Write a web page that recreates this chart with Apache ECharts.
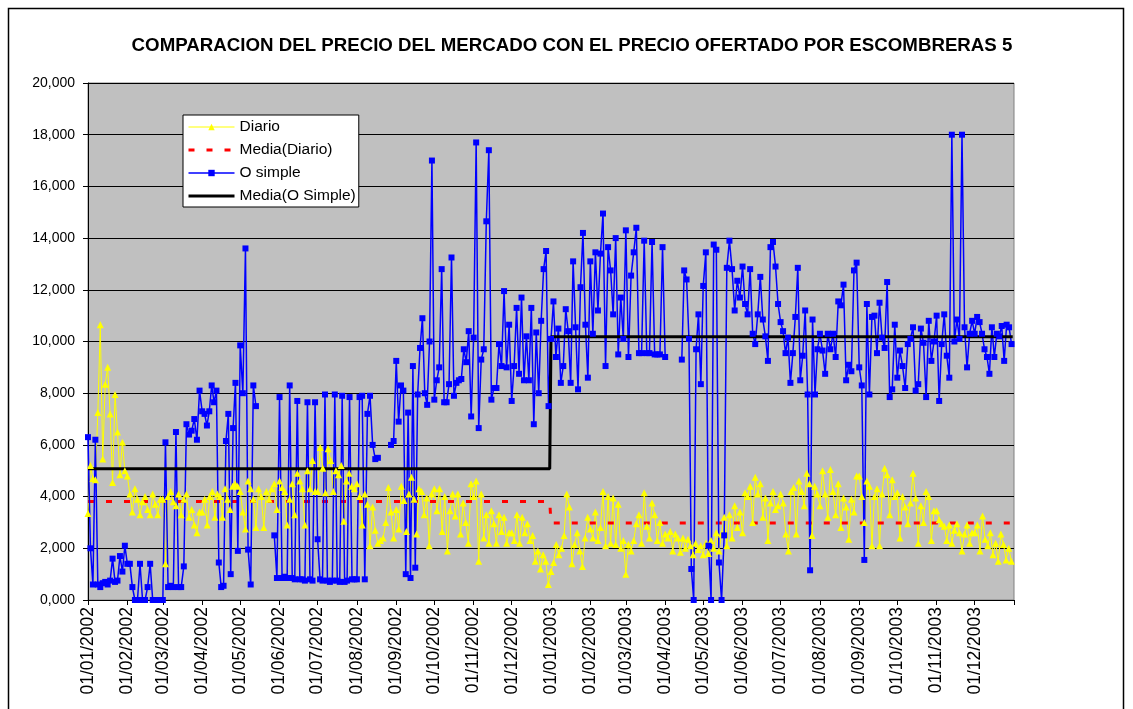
<!DOCTYPE html>
<html>
<head>
<meta charset="utf-8">
<script src="https://cdn.jsdelivr.net/npm/echarts@6/dist/echarts.min.js"></script>
<style>
  html, body { margin: 0; padding: 0; background: #fff; }
  #chart { width: 1133px; height: 709px; }
</style>
</head>
<body>
<div id="chart"></div>
<script>
// tick labels (first day of each month)
const monthLabels = [
  '01/01/2002', '01/02/2002', '01/03/2002', '01/04/2002', '01/05/2002', '01/06/2002',
  '01/07/2002', '01/08/2002', '01/09/2002', '01/10/2002', '01/11/2002', '01/12/2002',
  '01/01/2003', '01/02/2003', '01/03/2003', '01/04/2003', '01/05/2003', '01/06/2003',
  '01/07/2003', '01/08/2003', '01/09/2003', '01/10/2003', '01/11/2003', '01/12/2003'
]
const yTicks = [0, 2, 4, 6, 8, 10, 12, 14, 16, 18, 20]

// Diario: readings per month, spread evenly over the month
const diario2002 = [
  [3.35, 5.2, 4.7, 4.65, 7.25, 10.65, 5.45, 8.35, 9.0, 7.2, 4.55, 7.95, 6.5, 4.85, 6.1, 5.0],
  [4.8, 4.1, 3.4, 4.3, 3.9, 3.3, 3.8, 4.0, 3.5, 3.3, 4.1, 3.7, 3.3, 3.9],
  [3.9, 1.4, 4.0, 4.2, 3.8, 3.65, 4.1, 3.3, 3.9, 4.1, 3.2, 3.5, 2.9, 2.6, 3.4],
  [3.4, 3.9, 2.9, 4.0, 4.2, 3.2, 4.1, 4.0, 3.2, 4.3, 3.9, 3.5, 4.4, 4.5, 4.4],
  [4.2, 3.4, 2.75, 4.6, 4.3, 3.9, 2.8, 4.3, 4.0, 2.8, 4.2, 3.9, 4.3, 4.5, 3.5],
  [4.6, 4.35, 4.2, 2.9, 3.9, 4.5, 3.3, 4.9, 4.6, 4.3, 2.9, 5.0, 4.3, 5.4, 4.2],
  [4.2, 5.9, 5.1, 4.15, 5.85, 5.4, 4.2, 5.0, 4.85, 5.2, 3.05, 4.6, 4.9, 4.4, 4.3],
  [4.5, 4.0, 2.9, 4.1, 3.7, 2.1, 3.6, 2.7, 2.2, 2.3, 2.4, 3.0, 4.35, 3.4, 2.4],
  [3.5, 2.75, 4.4, 3.85, 2.65, 4.1, 4.75, 3.9, 2.55, 4.3, 4.2, 3.3, 3.95, 2.1, 4.1],
  [4.3, 3.45, 4.3, 2.65, 4.0, 1.9, 3.45, 4.1, 3.25, 4.1, 2.55, 3.75, 3.0, 2.2, 4.5],
  [4.0, 4.6, 1.5, 4.1, 2.4, 3.3, 2.2, 3.45, 2.95, 2.2, 3.3, 2.65, 3.2, 2.2, 2.6],
  [2.6, 2.3, 3.3, 2.2, 3.2, 2.6, 2.95, 2.3, 2.5, 1.5, 1.9, 1.2, 1.75, 1.5, 0.6]
]
const diario2003 = [
  [1.1, 1.45, 2.15, 1.75, 2.0, 2.5, 4.1, 3.6, 1.4, 2.15, 2.6, 1.9, 1.3, 2.4, 3.2],
  [2.75, 2.4, 3.4, 2.3, 2.8, 4.2, 2.1, 4.0, 2.2, 3.95, 2.15, 3.7, 2.0, 2.3],
  [1.0, 2.15, 1.9, 2.3, 2.95, 3.3, 2.2, 4.15, 2.85, 2.4, 3.75, 3.3, 2.3, 3.0, 2.2],
  [2.55, 2.4, 2.65, 1.9, 2.55, 2.4, 1.85, 2.4, 2.0, 2.35, 2.1, 1.75, 2.2, 1.95, 2.1],
  [1.75, 2.2, 1.8, 2.3, 2.0, 2.6, 1.9, 2.55, 3.2, 2.1, 3.3, 2.4, 3.65, 2.8, 3.4],
  [2.6, 4.15, 4.0, 4.4, 3.0, 4.75, 4.1, 4.5, 3.2, 3.95, 2.3, 3.75, 4.2, 3.5, 3.65],
  [4.1, 3.75, 2.55, 1.9, 4.2, 4.35, 2.55, 4.6, 4.2, 3.65, 4.9, 4.5, 2.5, 4.4, 4.1],
  [3.65, 5.0, 4.1, 3.2, 5.05, 4.2, 3.3, 4.5, 2.8, 3.95, 3.6, 2.35, 3.9, 3.4, 4.8],
  [4.8, 4.0, 3.0, 4.6, 4.4, 2.1, 4.0, 4.3, 2.1, 4.1, 5.1, 4.85, 3.3, 4.65, 4.0],
  [4.15, 2.4, 4.0, 3.6, 2.95, 3.75, 4.9, 3.95, 2.2, 3.65, 3.0, 4.2, 4.0, 2.3, 3.45],
  [3.45, 3.1, 2.95, 2.85, 2.3, 2.9, 2.2, 2.7, 2.95, 2.6, 1.9, 2.55, 2.9, 2.2, 2.6],
  [2.6, 2.9, 1.9, 3.25, 2.35, 2.1, 2.6, 1.75, 2.2, 1.5, 2.55, 2.15, 1.55, 2.0, 1.5]
]

// O simple (null = no data that day)
const oSimple2002 = [
  [6.3, 2.0, 0.6, 6.2, 0.6, 0.5, 0.65, 0.7, 0.6, 0.75, 1.6, 0.7, 0.75, 1.7, 1.1, 2.1],
  [1.4, 1.4, 0.5, 0, 0, 1.4, 0, 0, 0.5, 1.4, 0, 0, 0, 0],
  [0, 6.1, 0.5, 0.55, 0.5, 6.5, 0.5, 0.5, 1.3, 6.8, 6.4, 6.55, 7.0, 6.2, 8.1],
  [7.3, 7.2, 6.75, 7.3, 8.3, 7.65, 8.1, 1.45, 0.5, 0.55, 6.15, 7.2, 1.0, 6.65, 8.4, 1.9],
  [9.85, 8.0, 13.6, 1.95, 0.6, 8.3, 7.5, null, null, null, null, null, null, 2.5, 0.85],
  [7.85, 0.85, 0.9, 0.85, 8.3, 0.85, 0.8, 7.7, 0.8, 0.8, 0.75, 7.65, 0.8, 0.75, 7.65],
  [2.35, 0.8, 0.75, 7.95, 0.75, 0.7, 0.75, 7.95, 0.75, 0.7, 7.9, 0.7, 0.75, 7.85, 0.8, 0.8],
  [0.8, 7.85, 7.9, 0.8, 7.2, 7.9, 6.0, 5.45, 5.5, null, null, null, null, 6.0, 6.15],
  [9.25, 6.9, 8.3, 8.1, 1.0, 7.25, 0.85, 9.05, 1.25, 7.95, 9.75, 10.9, 8.0, 7.55, 10.0, 17.0],
  [7.75, 8.5, 9.0, 12.8, 7.65, 7.65, 8.35, 13.25, 7.9, 8.4, 8.5, 8.55, 9.7, 9.2, 10.4, 7.1],
  [10.15, 17.7, 6.65, 9.3, 9.7, 14.65, 17.4, 7.75, 8.2, 8.2, 9.9, 9.05, 11.95, 9.0, 10.65],
  [7.7, 9.05, 11.3, 8.75, 11.7, 8.5, 10.2, 8.5, 11.3, 6.8, 10.35, 8.0, 10.8, 12.8, 13.5, 7.5]
]
const oSimple2003 = [
  [10.1, 11.55, 9.4, 10.5, 8.4, 9.05, 11.25, 10.4, 8.4, 13.1, 10.55, 8.15, 12.1, 14.2, 10.65, 8.6],
  [13.1, 10.3, 13.45, 11.2, 13.4, 14.95, 9.05, 13.65, 12.75, 11.05, 14.0, 9.5, 11.7, 10.1],
  [14.3, 9.4, 12.55, 13.45, 14.4, 9.55, 9.55, 13.9, 9.55, 9.55, 13.85, 9.5, 9.5, 9.5, 13.65],
  [9.4, null, null, null, null, null, null, 9.3, 12.75, 12.4, 10.1, 1.2, 0, 9.7, 11.05, 8.35],
  [12.15, 13.45, 2.1, 0, 13.75, 13.55, 1.45, 0, 2.5, 12.85, 13.9, 12.8, 11.2, 12.35, 11.7],
  [12.9, 11.45, 11.05, 12.8, 10.3, 9.9, 11.05, 12.5, 10.85, 10.2, 9.25, 13.65, 13.85, 12.9, 11.45],
  [10.75, 10.4, 9.55, 10.15, 8.4, 9.55, 10.95, 12.85, 8.5, 9.45, 11.2, 7.95, 1.15, 10.85, 7.95, 9.7],
  [10.3, 9.65, 8.75, 10.3, 9.7, 10.3, 9.4, 11.55, 11.4, 12.2, 8.5, 9.1, 8.85, 12.75, 13.05],
  [9.0, 8.3, 1.55, 11.45, 7.95, 10.95, 11.0, 9.55, 11.5, 10.15, 9.75, 12.3, 7.85, 8.15, 10.65],
  [8.6, 9.65, 9.05, 8.2, 9.9, 10.1, 10.55, 8.1, 8.35, 10.5, 9.95, 7.85, 10.8, 9.25, 10.0],
  [11.0, 7.7, 9.9, 11.05, 9.45, 8.6, 18.0, 10.0, 10.85, 10.1, 18.0, 10.55, 9.0, 10.3, 10.8],
  [10.3, 10.95, 10.75, 10.3, 9.7, 9.4, 8.75, 10.55, 9.4, 10.3, 10.2, 10.6, 9.25, 10.65, 10.55, 9.9]
]

// yearly means [2002, 2003]
const mediaDiario = [3.81, 2.98]
const mediaOSimple = [5.08, 10.18]

const DAY = 86400000
const T0 = Date.UTC(2002, 0, 1)
const FONT = 'Liberation Sans, Arial, sans-serif'

// x values are days counted from 01/01/2002
const dayOf = (y, m, d) => (Date.UTC(y, m, d) - T0) / DAY

const parseLabel = s => {
  const [d, m, y] = s.split('/').map(Number)
  return dayOf(y, m - 1, d)
}

const buildDaily = (year, months) => {
  const pts = []
  months.forEach((vals, m) => {
    const start = dayOf(year, m, 1)
    const days = dayOf(year, m + 1, 1) - start
    vals.forEach((v, i) => {
      pts.push([start + i * days / vals.length, v])
    })
  })
  return pts
}

const buildMean = means => {
  const pts = []
  means.forEach((v, k) => {
    pts.push([dayOf(2002 + k, 0, 1), v])
    pts.push([dayOf(2002 + k, 11, 31), v])
  })
  return pts
}

const tickValues = monthLabels.map(parseLabel)
const xMax = dayOf(2004, 0, 1)

const fmtDate = v => {
  const d = new Date(T0 + Math.round(v) * DAY)
  const p = n => String(n).padStart(2, '0')
  return p(d.getUTCDate()) + '/' + p(d.getUTCMonth() + 1) + '/' + d.getUTCFullYear()
}

const chart = echarts.init(document.getElementById('chart'), null, { renderer: 'canvas' })

const option = {
  animation: false,
  backgroundColor: '#ffffff',
  title: {
    text: 'COMPARACION DEL PRECIO DEL MERCADO CON EL PRECIO OFERTADO POR ESCOMBRERAS 5',
    left: 567,
    textAlign: 'center',
    top: 31,
    textStyle: { fontFamily: FONT, fontSize: 18.7, fontWeight: 'bold', color: '#000' }
  },
  graphic: [{
    type: 'rect',
    shape: { x: 8.5, y: 8.5, width: 1115, height: 720 },
    style: { fill: null, stroke: '#000', lineWidth: 1.5 },
    silent: true,
    z: -1
  }],
  legend: {
    orient: 'vertical',
    left: 183,
    top: 115,
    padding: [4, 3, 3, 4],
    itemWidth: 46,
    itemHeight: 8,
    itemGap: 7,
    backgroundColor: '#fff',
    borderColor: '#000',
    borderWidth: 1,
    lineStyle: { width: 'inherit' },
    textStyle: { fontFamily: FONT, fontSize: 15.5, color: '#000' },
    data: [
      'Diario',
      { name: 'Media(Diario)', itemStyle: { opacity: 0 } },
      'O simple',
      { name: 'Media(O Simple)', itemStyle: { opacity: 0 } }
    ]
  },
  grid: {
    left: 88,
    top: 83,
    right: 119,
    bottom: 109,
    show: true,
    backgroundColor: '#c0c0c0',
    borderColor: '#808080',
    borderWidth: 1
  },
  xAxis: {
    type: 'value',
    min: 0,
    max: xMax,
    axisLine: { lineStyle: { color: '#000', width: 1 } },
    axisTick: { show: true, length: 5, lineStyle: { color: '#000' }, customValues: tickValues.concat([xMax]) },
    axisLabel: {
      customValues: tickValues,
      rotate: 90,
      margin: 7,
      fontFamily: FONT,
      fontSize: 17.5,
      color: '#000',
      formatter: fmtDate
    },
    splitLine: { show: false }
  },
  yAxis: {
    type: 'value',
    min: yTicks[0],
    max: yTicks[yTicks.length - 1],
    interval: 2,
    axisLine: { show: true, lineStyle: { color: '#000', width: 1 } },
    axisTick: { show: true, length: 5, lineStyle: { color: '#000' } },
    axisLabel: {
      margin: 13,
      fontFamily: FONT,
      fontSize: 14,
      color: '#000',
      formatter: v => v.toFixed(3).replace('.', ',')
    },
    splitLine: { lineStyle: { color: '#000', width: 1 } }
  },
  series: [
    {
      name: 'Diario',
      type: 'line',
      data: buildDaily(2002, diario2002).concat(buildDaily(2003, diario2003)),
      symbol: 'triangle',
      symbolSize: 7,
      showAllSymbol: true,
      lineStyle: { color: '#ffff00', width: 1 },
      itemStyle: { color: '#ffff00' }
    },
    {
      name: 'Media(Diario)',
      type: 'line',
      data: buildMean(mediaDiario),
      symbol: 'none',
      lineStyle: { color: '#ff0000', width: 3, type: [6, 12] },
      itemStyle: { color: '#ff0000' }
    },
    {
      name: 'O simple',
      type: 'line',
      data: buildDaily(2002, oSimple2002).concat(buildDaily(2003, oSimple2003)),
      symbol: 'rect',
      symbolSize: 6,
      showAllSymbol: true,
      connectNulls: false,
      lineStyle: { color: '#0000ff', width: 1.5 },
      itemStyle: { color: '#0000ff' }
    },
    {
      name: 'Media(O Simple)',
      type: 'line',
      data: buildMean(mediaOSimple),
      symbol: 'none',
      lineStyle: { color: '#000000', width: 3 },
      itemStyle: { color: '#000000' }
    }
  ]
}

chart.setOption(option)
</script>
</body>
</html>
